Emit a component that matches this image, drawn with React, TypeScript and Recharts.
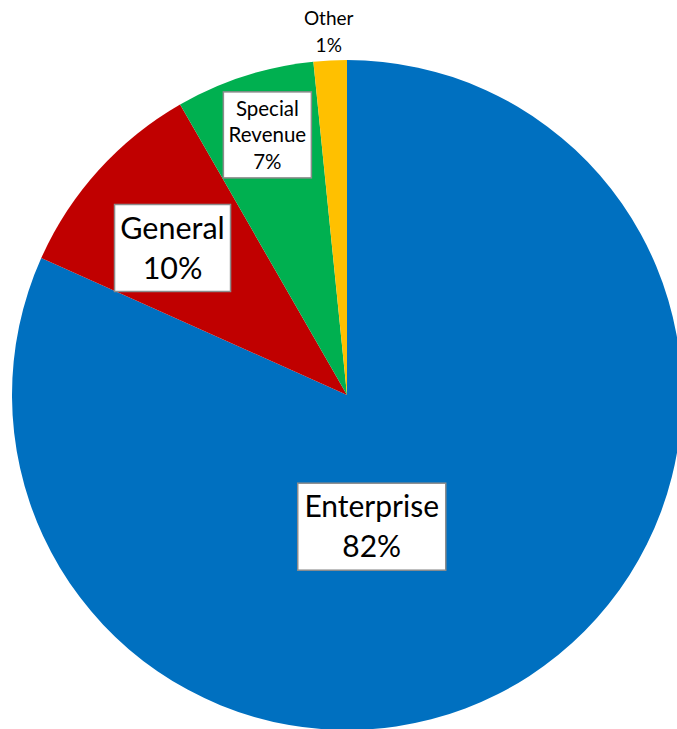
import React from 'react';
import { PieChart, Pie, Cell } from 'recharts';

const categories = ['Enterprise', 'General', 'Special Revenue', 'Other'];
const shares = [81.7, 10.0, 6.7, 1.6];
const percentLabels = ['82%', '10%', '7%', '1%'];
const nameLines = [['Enterprise'], ['General'], ['Special', 'Revenue'], ['Other']];
const colors = ['#0070C0', '#C00000', '#00B050', '#FFC000'];

const data = categories.map((name, i) => ({ name, value: shares[i] }));

// label placement styles (polar, relative to slice mid-angle)
const labelStyles = [
  { rf: 0.40, shift: -22.3, fontSize: 30, lh: 40, boxW: 148, boxH: 87, boxed: true },
  { rf: 0.681, shift: 2.0, fontSize: 30.5, lh: 40, boxW: 116, boxH: 87, boxed: true },
  { rf: 0.812, shift: -0.8, fontSize: 20.5, lh: 26.5, boxW: 88, boxH: 86, boxed: true },
  { rf: 1.085, shift: 0, fontSize: 19, lh: 27, boxW: 0, boxH: 0, boxed: false },
];

const RAD = Math.PI / 180;

const renderLabel = (props: any) => {
  const { cx, cy, midAngle, outerRadius, index } = props;
  const s = labelStyles[index];
  const ang = (midAngle + s.shift) * RAD;
  const r = outerRadius * s.rf;
  const x = cx + Math.cos(-ang) * r;
  const y = cy + Math.sin(-ang) * r;
  const lines = [...nameLines[index], percentLabels[index]];
  const n = lines.length;
  const first = y - (s.lh * (n - 1)) / 2 + (0.716 * s.fontSize) / 2;
  return (
    <g key={`lbl-${index}`}>
      {s.boxed && (
        <rect
          x={x - s.boxW / 2}
          y={y - s.boxH / 2}
          width={s.boxW}
          height={s.boxH}
          fill="#ffffff"
          stroke="#8c8c8c"
          strokeWidth={1.5}
        />
      )}
      <text
        x={x}
        y={first}
        textAnchor="middle"
        fill="#000000"
        fontFamily="Lato, 'Open Sans', sans-serif"
        fontSize={s.fontSize}
      >
        {lines.map((ln, i) => (
          <tspan key={i} x={x} y={first + i * s.lh}>
            {ln}
          </tspan>
        ))}
      </text>
    </g>
  );
};

export default function App() {
  return (
    <div style={{ width: 677, height: 729, overflow: 'hidden' }}>
      <style>{'body{margin:0;}'}</style>
      <PieChart width={677} height={729} margin={{ top: 0, right: 0, bottom: 0, left: 0 }}>
        <Pie
          data={data}
          dataKey="value"
          nameKey="name"
          cx={347}
          cy={395}
          outerRadius={335}
          startAngle={90}
          endAngle={-270}
          stroke="none"
          label={renderLabel}
          labelLine={false}
          isAnimationActive={false}
        >
          {data.map((d, i) => (
            <Cell key={d.name} fill={colors[i]} />
          ))}
        </Pie>
      </PieChart>
    </div>
  );
}
